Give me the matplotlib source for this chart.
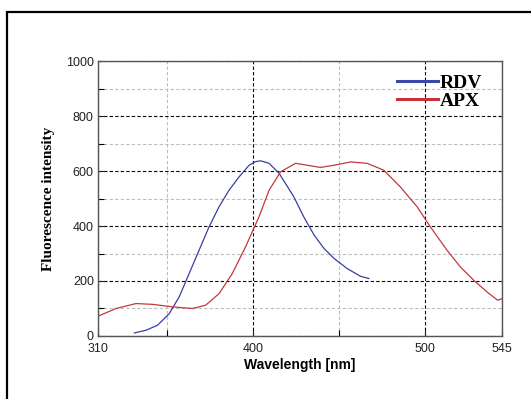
import numpy as np
import matplotlib
matplotlib.use('Agg')
import matplotlib.pyplot as plt
from matplotlib.patches import Rectangle
from matplotlib.lines import Line2D
from matplotlib.ticker import FixedLocator

# RDV curve
rdv_x = [331.1, 337.9, 344.6, 351.4, 357.2, 363.0, 368.8, 374.6, 380.4, 386.2,
         392.1, 397.9, 401.5, 404.7, 409.5, 415.4, 423.9, 429.7, 435.7, 441.5,
         447.3, 455.0, 462.7, 467.6]
rdv_y = [11, 21, 39, 81, 142, 227, 312, 397, 470, 530,
         579, 621, 634, 637, 628, 591, 506, 433, 367, 318,
         282, 245, 217, 209]

# APX curve
apx_x = [310.0, 320.5, 332.1, 341.8, 353.3, 364.9, 372.6, 380.4, 388.1, 395.8,
         403.6, 409.5, 416.2, 424.9, 431.6, 439.4, 447.3, 457.0, 466.5, 476.2,
         485.9, 495.6, 503.3, 513.0, 520.8, 528.5, 536.3, 542.5, 545.0]
apx_y = [72, 100, 118, 115, 106, 100, 112, 154, 227, 324,
         433, 530, 597, 628, 621, 613, 621, 633, 628, 603,
         542, 470, 397, 312, 251, 203, 160, 130, 136]

x_major = [310, 400, 500, 545]
x_minor = [350, 450]
y_major = [0, 200, 400, 600, 800, 1000]
y_minor = [100, 300, 500, 700, 900]

fig = plt.figure(figsize=(5.31, 3.99), dpi=100)
fig.patches.append(Rectangle((7 / 531, -0.1), 1.1, 0.97 + 0.1, transform=fig.transFigure,
                             fill=False, edgecolor='black', linewidth=1.6))

ax = fig.add_axes([0.1846, 0.1579, 0.7608, 0.6892])

ax.plot(rdv_x, rdv_y, color='#3a3f9e', linewidth=0.9)
ax.plot(apx_x, apx_y, color='#c0393b', linewidth=0.9)

ax.set_xlim(310, 545)
ax.set_ylim(0, 1000)
ax.xaxis.set_major_locator(FixedLocator(x_major))
ax.xaxis.set_minor_locator(FixedLocator(x_minor))
ax.yaxis.set_major_locator(FixedLocator(y_major))
ax.yaxis.set_minor_locator(FixedLocator(y_minor))

ax.grid(which='major', color='black', linestyle=(0, (3, 2)), linewidth=0.8)
ax.grid(which='minor', color='#bdbdbd', linestyle=(0, (3, 2)), linewidth=0.8)
ax.tick_params(which='both', direction='in', length=4, width=0.8)
ax.tick_params(axis='x', pad=5)
ax.tick_params(axis='y', pad=3)
ax.tick_params(labelsize=9, colors='#222222')
for lab in ax.get_xticklabels() + ax.get_yticklabels():
    lab.set_fontfamily('Liberation Sans')
for s in ax.spines.values():
    s.set_color('#555555')
    s.set_linewidth(1.0)

ax.set_xlabel('Wavelength [nm]', fontsize=10, fontweight='bold',
              fontfamily='Liberation Sans', labelpad=2)
ax.set_ylabel('Fluorescence intensity', fontsize=11, fontweight='bold',
              fontfamily='Liberation Serif', labelpad=8)

handles = [Line2D([], [], color='#3a4aa8', linewidth=2.2),
           Line2D([], [], color='#c8323a', linewidth=2.2)]
ax.legend(handles, ['RDV', 'APX'], loc='upper right', frameon=False,
          prop={'family': 'Liberation Serif', 'weight': 'bold', 'size': 14},
          handlelength=2.1, handletextpad=0.1, labelspacing=0.0,
          bbox_to_anchor=(0.985, 1.0), borderaxespad=0.3)

fig.savefig('out.png', dpi=100)
